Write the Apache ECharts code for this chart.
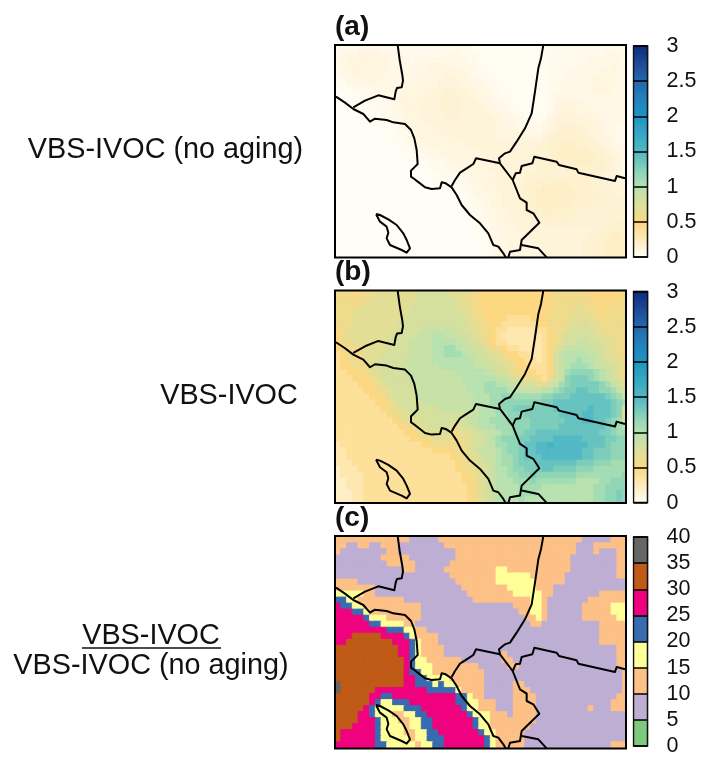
<!DOCTYPE html>
<html><head><meta charset="utf-8">
<style>html,body{margin:0;padding:0;background:#fff}#c{width:702px;height:757px}</style>
<script src="https://cdn.jsdelivr.net/npm/echarts@6/dist/echarts.min.js"></script>
</head><body><div id="c"></div>
<script>
// Panel (a): cell values, one character per cell, each step = 0.024
const panelARows = [
"2222333322 2222222222 2222111111 1111111222 2222222222 2",
"2333444433 3322222222 3322211111 1111111122 2222222333 2",
"2344444443 3332333333 3332211111 1111111222 2222333333 2",
"2344444443 3333334444 3333211111 1111111222 2233333343 3",
"2334444443 3333344444 4433221111 1111111222 2333334443 3",
"1233344433 3333444445 5443322111 1111111222 3333344443 3",
"1123333333 3344444455 5544332211 1111111223 3333344443 3",
"0112222333 3344444556 6554433221 1111111223 3333344433 3",
"0011122233 3444445566 6655443322 1111111233 3333333333 3",
"0001112223 3444455566 6655544332 2111111234 4443333333 3",
"0000111222 3344455566 6655554433 2211011244 4444433333 3",
"0000011122 3344455556 6655555443 3221011345 5544443333 3",
"0000001112 2344445555 5555555544 3321112455 5555444333 2",
"0000000111 2234444555 5555555544 4332223456 6665544332 2",
"0000000011 1223444455 5555555544 4443334567 7766554332 2",
"0000000001 1123344444 4555555544 4444445677 7776654432 2",
"0000000000 1122334444 4445555555 5555566778 8877665433 2",
"0000000000 0112233344 4444455555 5555566778 8888776543 3",
"0000000000 0011222333 4444445555 5555666778 8888877654 3",
"0000000000 0001112223 3444444555 5556666777 7888877654 2",
"0000000000 0000111222 3344444555 5555566666 7777777654 2",
"0000000000 0000011122 2233444455 5556666666 6777766554 3",
"0000000000 0000000111 1223344455 5556677777 7777666554 4",
"0000000000 0000000001 1122334455 5567778888 8777766655 5",
"0000000000 0000000000 1112334445 5567788888 8877776665 5",
"0000000000 0000000000 0112233445 5567788888 8877776666 6",
"0000000000 0000000000 0011223445 5567788888 8777666666 6",
"0000000000 0000000000 0011223344 5566778877 7766666666 6",
"0000000000 0000000000 0001123344 5556667777 7666666666 6",
"0000000000 0000000000 0001122344 4555566666 6666666667 7",
"0000000000 0000000000 0000112334 4455555555 5555566777 7",
"0000000000 0000000000 0000112334 4445555555 5555667788 7",
"0000000000 0000000000 0000011233 4444555555 5556677888 8",
"0000000000 0000000000 0000011233 4444445555 5556677888 8",
"0000000000 0000000000 0000011233 3444445555 5556677888 8"];
// Panel (b): cell values, one base-36 character per cell, each step = 0.1
const panelBRows = [
"6665666777 7777888888 7776655555 5555555566 6666555555 5",
"6666667777 7777888888 8776655555 5555555566 6666655556 5",
"6666677777 7778888888 8776655555 5555555566 6676665566 5",
"6667777777 7778888888 8877665555 5555555666 6777665666 6",
"6667777777 7788888888 8887665555 4444555666 6777766666 6",
"6667777777 7888888888 8887766554 4444455666 7778776666 6",
"6677777777 7888899999 9887766544 3333344566 7888876666 6",
"5677777777 8888999aa9 9988776543 3333334567 8888877766 6",
"5667777778 8889999aaa a998876544 3333334567 8899888776 6",
"5666677778 8889999aab ba99887665 4433334578 9999988776 6",
"4566677788 8889999aab bba9988776 5544334589 aaaa998776 6",
"4566677788 8899999aaa aaaa998877 6554434589 aabaa98877 6",
"4556667888 88999999aa aaaa999887 7655444589 abbba99887 6",
"4455567788 8899999999 9aaaaa9988 7665544589 bccccba987 6",
"4445556788 8889999999 99aaaaaa99 8776654689 cdddcba987 7",
"4444555678 8889999999 999aaabbaa 998887789b cdddddcb98 7",
"4444455667 8888999999 999aaabbbb aa9999aabc ddeeddccb9 8",
"4444445567 8888999999 9999aaabbc cbbbbbccdd deeeeeedcb 9",
"4444444556 7888899999 9999aaabbc ccccccddee eeeeeeeedc b",
"4444444456 7788888899 99999aaabc cdddddddee eeeefeeedc 7",
"4444444445 6778888888 88999aaabb cccdddddde eeeffeeedc 7",
"4444444444 5677788888 88899aabbb ccccdddddd eeeffeedcb 8",
"4444444444 4566778888 77889aaabb bcccddddde eeeeeeedcb a",
"4444444444 4455677778 66778899ab bccddeeeee eeeeeeddcb b",
"4444444444 4445566777 6667889abc ccddeeeeff fffeeeeddc c",
"3444444444 4444455666 66678899bb ccdeeffgff ffffeeedcc c",
"3344444444 4444444555 66678999ab ccdeefffff fffeedddcc c",
"3344444444 4444444444 56677899ab bcdeeeffff fffeedddcc c",
"3334444444 4444444444 45667889ab bcdddeeeee eedddcccbb b",
"2333444444 4444444444 45667789aa bccdddeedd ddcccbbbbb b",
"2333344444 4444444444 44566789aa bbccdccccc ccbbbbbbbb c",
"2233344444 4444444444 44556789aa abbbcbbbbb bbaaaabbcc c",
"2233344444 4444444444 44456789aa aabbbbaaaa aaaaabbccc c",
"2223344444 4444444444 444567899a aabbbaaaaa aaaaabbccd c",
"2223344444 4444444444 44456789aa aabaaaaaaa aaaaabbccd c"];
// Panel (c): class runs per row, class:count; class n covers 5n..5n+5
const panelCRuns = [
"2:13,1:5,2:25,1:5,2:3",
"2:2,1:2,2:2,1:2,2:3,1:8,2:23,1:3,2:6",
"2:1,1:8,2:2,1:10,2:21,1:3,2:1,1:3,2:2",
"1:8,2:5,1:8,2:20,1:8,2:2",
"1:9,2:5,1:6,2:21,1:8,2:2",
"1:12,2:2,1:5,2:9,3:2,2:11,1:8,2:2",
"1:20,2:8,3:6,2:6,1:9,2:2",
"2:4,1:17,2:7,3:7,2:5,1:11",
"2:7,1:15,2:8,3:5,2:3,1:13",
"3:5,2:2,1:16,2:8,3:5,2:2,1:8,2:5",
"4:2,3:2,2:8,1:12,2:10,3:2,2:1,1:7,2:7",
"5:1,4:2,3:2,2:10,1:16,2:3,3:2,2:1,1:6,2:5,3:3",
"5:3,4:2,3:1,2:9,1:17,2:2,3:2,2:1,1:6,2:5,3:3",
"5:5,4:1,3:3,2:6,1:18,2:2,3:1,2:1,1:6,2:6,3:2",
"5:6,4:2,3:4,2:2,1:20,2:2,1:10,2:5",
"5:9,4:3,3:2,2:2,1:30,2:5",
"5:3,6:5,5:4,4:1,3:1,2:4,1:28,2:5",
"5:2,6:8,5:3,4:1,3:1,2:3,1:28,2:5",
"6:11,5:2,4:1,3:1,2:4,1:30,2:2",
"6:11,5:2,4:1,3:1,2:4,1:10,2:1,1:19,2:2",
"6:12,5:1,4:1,3:2,2:6,1:7,2:2,1:18,2:2",
"6:12,5:1,4:1,3:3,2:8,1:5,2:2,1:17,2:2",
"6:12,5:1,4:2,3:2,2:9,1:24,2:1",
"6:12,5:2,4:2,3:4,2:6,1:24,2:1",
"7:1,6:11,5:2,4:3,3:1,4:1,3:2,2:5,1:5,2:2,1:17,2:1",
"7:1,6:6,5:9,4:5,3:1,2:4,1:5,2:3,1:16,2:1",
"6:6,5:2,4:2,5:11,4:2,3:1,2:2,1:5,2:4,1:14,2:2",
"6:6,5:1,4:1,3:2,4:3,5:8,4:2,3:2,2:3,1:3,2:4,1:13,2:3",
"6:5,5:1,4:1,3:5,4:3,5:7,4:1,3:2,2:3,1:3,2:4,1:9,2:1,1:3,2:3",
"6:4,5:2,4:1,3:3,2:2,3:2,4:2,5:7,4:1,3:3,2:3,1:1,2:4,1:16",
"6:4,5:3,4:1,3:3,2:2,3:2,4:2,5:7,4:1,3:2,2:8,1:16",
"6:3,5:4,4:1,3:4,2:1,3:2,4:2,5:7,4:1,3:2,2:7,1:17",
"6:1,5:6,4:1,3:4,2:2,3:2,4:2,5:7,4:1,3:2,2:5,1:18",
"6:1,5:6,4:1,3:5,2:1,3:2,4:3,5:7,4:1,3:1,2:5,1:18",
"5:7,4:2,3:5,2:1,3:2,4:2,5:7,4:1,3:1,2:5,1:15,2:3"];

// County lines and island outline, in map units
const northLine = [[218,105],[224,150],[232,195],[234,212],[230,232],[216,234],[212,245],[208,268],[160,256],[120,272],[85,292]];
const coastLine = [[33,260],[60,278],[85,297],[115,312],[135,335],[150,326],[185,330],[205,337],[240,342],[258,360],[268,385],[275,420],[278,462],[268,472],[258,482],[258,500],[268,507],[285,520],[300,532],[320,537],[345,535],[350,517],[362,520],[380,532],[395,555],[410,585],[435,615],[465,640],[490,670],[505,705],[520,710],[535,730],[542,742]];
const orangeNorth = [[380,528],[390,510],[405,488],[425,475],[445,462],[453,445],[525,460]];
const kernLine = [[525,460],[522,445],[540,430],[555,425],[575,395],[600,355],[620,310],[630,245],[640,175],[648,145],[655,105]];
const orangeEast = [[525,460],[563,510],[575,540],[585,565],[605,578],[605,600],[625,610],[643,638],[590,690],[585,720],[555,725],[550,742]];
const sdLine = [[590,705],[640,715],[665,742]];
const riversideLine = [[563,510],[572,490],[585,488],[590,468],[622,460],[628,440],[695,455],[702,465],[755,478],[760,488],[870,513],[875,498],[900,505]];
const island = [[153,612],[165,635],[185,650],[190,668],[185,685],[195,705],[230,720],[245,728],[255,715],[245,690],[235,670],[215,645],[190,628],[165,615],[153,612]];
const mapLines = [northLine,coastLine,orangeNorth,kernLine,orangeEast,sdLine,riversideLine,island];

const smoothColors = ['#FFFEFA','#FEEBBB','#FDD882','#DDE09A','#B8E2B0','#86D2B8','#52B9C5','#37A8C5','#2096C1','#2283BC','#2569AD','#1E4C9A','#0E2E80'];
const classColors = ['#7FC97F','#BEAED4','#FDC086','#FFFF99','#386CB0','#F0027F','#BF5B17','#666666'];
const smoothTicks = {min:0,max:3,interval:0.5};
const classTicks = {min:0,max:40,interval:5};
const panelLetters = ['(a)','(b)','(c)'];
const rowLabels = ['VBS-IVOC (no aging)','VBS-IVOC','VBS-IVOC','VBS-IVOC (no aging)'];

const NCOL = 51, NROW = 35;
const font = '"Liberation Sans", Arial, Helvetica, sans-serif';
const cols = Array.from({length:NCOL},(_,i)=>i), rows = Array.from({length:NROW},(_,i)=>i);
function charRows(src,step,base){const out=[];src.forEach((s,r)=>{const t=s.replace(/ /g,'').padEnd(NCOL,s.slice(-1));cols.forEach(c=>out.push([c,r,parseInt(t[c],36)*step+base]));});return out;}
function runRows(src){const out=[];src.forEach((s,r)=>{let c=0;s.split(',').forEach(p=>{const [k,n]=p.split(':').map(Number);for(let i=0;i<n&&c<NCOL;i++)out.push([c++,r,k*5+2.5]);});while(c<NCOL){out.push([c,r,out[out.length-1][2]]);c++;}});return out;}
const panelData = [charRows(panelARows,0.024,0.008),charRows(panelBRows,0.1,0),runRows(panelCRuns)];
const barSteps = Array.from({length:96},(_,i)=>(i+0.5)/96*3);
const classSteps = classColors.map((_,i)=>i*5+2.5);
// Hairline of each cell's own colour, so that neighbouring cells leave no seams
const smoothColorOf = v=>echarts.color.lerp(Math.min(1,v/3),smoothColors);
const classColorOf = v=>classColors[Math.floor(v/5)];
const sealed = (pts,colorOf)=>pts.map(p=>({value:p,itemStyle:{borderColor:colorOf(p[2]),borderWidth:0.8}}));

const tops = [46,291.6,537];
const innerH = 211;
const grid=[],xAxis=[],yAxis=[],series=[],graphic=[],title=[];
const smoothIdx=[],classIdx=[];
tops.forEach((top,p)=>{
  const colorOf=p<2?smoothColorOf:classColorOf;
  const g=grid.length;
  grid.push({left:335.25,top:top,width:293.25,height:innerH,show:false,containLabel:false});
  xAxis.push({gridIndex:g,type:'category',data:cols,show:false});
  yAxis.push({gridIndex:g,type:'category',data:rows,inverse:true,show:false});
  xAxis.push({gridIndex:g,type:'value',min:30.75,max:910.5,show:false});
  yAxis.push({gridIndex:g,type:'value',min:108,max:741,inverse:true,show:false});
  const xi=xAxis.length-2, yi=yAxis.length-2;
  (p<2?smoothIdx:classIdx).push(series.length);
  series.push({type:'heatmap',xAxisIndex:xi,yAxisIndex:yi,data:sealed(panelData[p],colorOf),progressive:0,animation:false,silent:true,z:2});
  mapLines.forEach(l=>series.push({type:'line',xAxisIndex:xi+1,yAxisIndex:yi+1,data:l,symbol:'none',silent:true,animation:false,z:3,lineStyle:{color:'#000',width:2,join:'round'}}));

  const b=grid.length;
  grid.push({left:633.5,top:top,width:14,height:innerH,show:true,backgroundColor:'transparent',borderColor:'#111',borderWidth:1.5,z:6});
  const steps=p<2?barSteps:classSteps, ticks=p<2?smoothTicks:classTicks;
  xAxis.push({gridIndex:b,type:'category',data:[0],show:false});
  yAxis.push({gridIndex:b,type:'category',data:steps.map((_,i)=>i),show:false});
  const bx=xAxis.length-1, by=yAxis.length-1;
  xAxis.push({gridIndex:b,type:'category',data:[0],show:false});
  yAxis.push({gridIndex:b,type:'value',position:'right',min:ticks.min,max:ticks.max,interval:ticks.interval,z:8,
    axisLine:{show:false},splitLine:{show:false},
    axisTick:{show:true,inside:true,length:14,lineStyle:{color:'#000',width:1.5}},
    axisLabel:{show:true,margin:19,color:'#111',fontSize:21.5,fontFamily:font,align:'left',formatter:v=>String(v)}});
  (p<2?smoothIdx:classIdx).push(series.length);
  series.push({type:'heatmap',xAxisIndex:bx,yAxisIndex:by,data:sealed(steps.map((v,i)=>[0,i,v]),colorOf),progressive:0,animation:false,silent:true,z:2});
  series.push({type:'line',xAxisIndex:bx+1,yAxisIndex:by+1,data:[],silent:true,animation:false});

  graphic.push({type:'rect',shape:{x:626,y:top-2,width:6.5,height:innerH+4},style:{fill:'#fff'},z:50,silent:true});
  graphic.push({type:'rect',shape:{x:335,y:top-1,width:291,height:innerH+1.5},style:{fill:'none',stroke:'#000',lineWidth:2},z:51,silent:true});
  title.push({text:panelLetters[p],left:335,top:top-33,textStyle:{fontFamily:font,fontWeight:'bold',fontSize:28,color:'#111'},padding:0});
});
const rowLabel=(text,cx,cy)=>graphic.push({type:'text',x:cx,y:cy,z:60,silent:true,style:{text,fontFamily:font,fontSize:28.8,fill:'#111',textAlign:'center',textVerticalAlign:'middle'}});
rowLabel(rowLabels[0],165.5,150);
rowLabel(rowLabels[1],229,396);
rowLabel(rowLabels[2],151,636);
rowLabel(rowLabels[3],151,666);
graphic.push({type:'line',shape:{x1:82,y1:648,x2:221,y2:648},style:{stroke:'#111',lineWidth:1.5},z:60,silent:true});

echarts.init(document.getElementById('c'),null,{renderer:'canvas'}).setOption({
  animation:false,backgroundColor:'#fff',tooltip:{show:false},legend:{show:false},
  title,grid,xAxis,yAxis,series,graphic,
  visualMap:[
   {show:false,type:'continuous',min:0,max:3,dimension:2,seriesIndex:smoothIdx,inRange:{color:smoothColors}},
   {show:false,type:'piecewise',dimension:2,seriesIndex:classIdx,pieces:classColors.map((color,i)=>({min:i*5,max:i*5+5,color}))}
  ]
});
</script></body></html>
